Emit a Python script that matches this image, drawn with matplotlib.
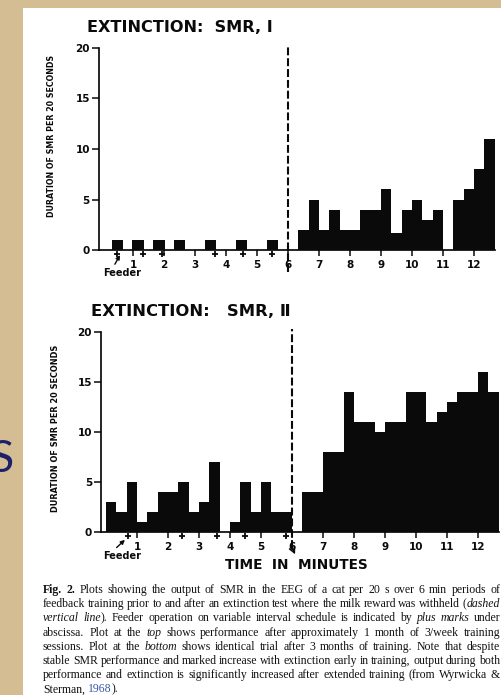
import matplotlib
matplotlib.use('Agg')
import matplotlib.pyplot as plt
from matplotlib.patches import Rectangle
from matplotlib import font_manager
from matplotlib.font_manager import FontProperties
import numpy as np

W, H = 502, 695
DPI = 100

# ---------------- data ----------------
bin_minutes = 1 / 3            # 20 s bins
extinction_minute = 6
post_start = 6 + 1 / 3
top_pre = [0, 1, 0, 1, 0, 1, 0, 1, 0, 0, 1, 0, 0, 1, 0, 0, 1, 0]
top_post = [2, 5, 2, 4, 2, 2, 4, 4, 6, 1.7, 4, 5, 3, 4, 0, 5, 6, 8, 11]
bot_pre = [3, 2, 5, 1, 2, 4, 4, 5, 2, 3, 7, 0, 1, 5, 2, 5, 2, 2]
bot_post = [4, 4, 8, 8, 14, 11, 11, 10, 11, 11, 14, 14, 11, 12, 13, 14, 14, 16, 14]
top_feeder = [0.47, 1.33, 1.94, 3.65, 4.55, 5.5]
bot_feeder = [0.72, 2.44, 3.59, 4.5, 5.8]
minute_ticks = list(range(1, 13))
y_ticks = [0, 5, 10, 15, 20]
titles = ['EXTINCTION:  SMR, \u2160', 'EXTINCTION:   SMR, \u2161']
ylabel = 'DURATION OF SMR PER 20 SECONDS'
xlabel = 'TIME  IN  MINUTES'
feeder_label = 'Feeder'
caption_lines = [
    "#Fig. 2.# Plots showing the output of SMR in the EEG of a cat per 20 s over 6 min periods of",
    "feedback training prior to and after an extinction test where the milk reward was withheld (_dashed_",
    "_vertical line_). Feeder operation on variable interval schedule is indicated by _plus marks_ under",
    "abscissa. Plot at the _top_ shows performance after approximately 1 month of 3/week training",
    "sessions. Plot at the _bottom_ shows identical trial after 3 months of training. Note that despite",
    "stable SMR performance and marked increase with extinction early in training, output during both",
    "performance and extinction is significantly increased after extended training (from Wyrwicka &",
    "Sterman, @1968@).",
]

# ---------------- styles ----------------
TAN = '#d5bd93'
NAVY = '#1d1f6a'
LINK = '#3556a8'
INK = '#0a0a0a'

fig = plt.figure(figsize=(W / DPI, H / DPI), dpi=DPI, facecolor=TAN)
renderer = fig.canvas.get_renderer()


def px(x, y):
    return (x / W, 1 - y / H)


def text_width(t):
    return t.get_window_extent(renderer).width


# white panel
fig.patches.append(Rectangle(px(23, H), 1 - 23 / W, (H - 8) / H,
                             transform=fig.transFigure, facecolor='white',
                             edgecolor='none', zorder=-5))
# slide letter peeking at the left
fig.text(*px(14, 460), 'S', ha='right', va='center', fontsize=32,
         color=NAVY, family=['Lato', 'DejaVu Sans'], zorder=-4)

# a condensed sans face for the vertical axis titles, if one is installed
cond, best = None, -1
for f in font_manager.fontManager.ttflist:
    is_cond = ('Condensed' in f.name or 'Narrow' in f.name or
               f.stretch in ('condensed', 'semi-condensed', 'extra-condensed'))
    if not is_cond or f.style != 'normal':
        continue
    if 'Serif' in f.name or 'Mono' in f.name:
        continue
    score = 1
    w = f.weight if isinstance(f.weight, int) else (700 if 'bold' in str(f.weight) else 400)
    if 500 <= w <= 700:
        score += 2
    if 'Sans' in f.name:
        score += 1
    if score > best:
        cond, best = f, score
ylab_font = (FontProperties(fname=cond.fname) if cond is not None
             else FontProperties(family='DejaVu Sans'))


def make_ax(x0, ppm, y0, ppu, xmin, xmax):
    left = (x0 + ppm * xmin) / W
    width = ppm * (xmax - xmin) / W
    bottom = (H - y0) / H
    height = 20 * ppu / H
    ax = fig.add_axes([left, bottom, width, height])
    ax.set_xlim(xmin, xmax)
    ax.set_ylim(0, 20)
    ax.patch.set_visible(False)
    return ax


def draw_panel(ax, pre, post, pre_width, feeder, feeder_text_xy, feeder_tip, arrow_end):
    pre_x = (np.arange(len(pre)) + 0.5) * bin_minutes
    post_x = post_start + (np.arange(len(post)) + 0.5) * bin_minutes
    ax.bar(pre_x, pre, width=pre_width, color=INK, linewidth=0, zorder=3)
    ax.bar(post_x, post, width=bin_minutes, color=INK, linewidth=0, zorder=3)
    ax.axvline(extinction_minute, ymin=arrow_end, ymax=1.015, color=INK, lw=1.5,
               dashes=(3.8, 1.4), clip_on=False, zorder=4)
    ax.scatter(feeder, [-0.02] * len(feeder), marker='+', s=18, linewidths=1.3,
               color=INK, transform=ax.get_xaxis_transform(), clip_on=False, zorder=4)
    for s in ['top', 'right']:
        ax.spines[s].set_visible(False)
    ax.spines['left'].set_linewidth(1.2)
    ax.spines['bottom'].set_linewidth(1.2)
    ax.spines['bottom'].set_bounds(ax.get_xlim()[0],
                                   post_start + len(post) * bin_minutes)
    ax.set_yticks(y_ticks)
    ax.set_xticks(minute_ticks)
    ax.set_xticklabels([str(m) for m in minute_ticks])
    ax.tick_params(axis='y', direction='out', length=5, width=1.1, pad=1.5,
                   labelsize=7.5, colors=INK)
    ax.tick_params(axis='x', direction='out', length=4, width=1.1, pad=3,
                   labelsize=7.5, colors=INK)
    for lab in ax.get_xticklabels() + ax.get_yticklabels():
        lab.set_fontweight('bold')
    ax.annotate(feeder_label, xy=feeder_tip, xytext=feeder_text_xy,
                ha='center', va='center', fontsize=7, fontweight='bold',
                color=INK, annotation_clip=False,
                arrowprops=dict(arrowstyle='-|>', lw=1.0, color=INK,
                                mutation_scale=6, relpos=(0.25, 1.0),
                                shrinkA=1, shrinkB=0))


ax1 = make_ax(102, 31, 250, 10.1, -0.1, 12.9)
draw_panel(ax1, top_pre, top_post, 0.38, top_feeder,
           (0.65, -2.3), (0.58, -0.5), -0.11)
ax2 = make_ax(106, 31, 532.3, 10.0, -0.16, 12.77)
draw_panel(ax2, bot_pre, bot_post, bin_minutes, bot_feeder,
           (0.52, -2.4), (0.61, -0.75), -0.08)
ax2.annotate('', xy=(6.1, -2.2), xytext=(6.0, -1.55),
             arrowprops=dict(arrowstyle='->', lw=1.1, color=INK, shrinkA=0, shrinkB=0),
             annotation_clip=False)


def fit_text(x_left, y_center, s, target_w, base_fs, rotation=0, **kw):
    t = fig.text(*px(x_left, y_center), s, fontsize=base_fs, ha='left',
                 va='center', **kw)
    w = text_width(t)
    t.set_fontsize(base_fs * target_w / w)
    if rotation:
        t.set_rotation(rotation)
        t.set_ha('center')
    return t


fit_text(87, 27, titles[0], 185, 9, fontweight='bold', color=INK)
fit_text(91, 311, titles[1], 199, 9, fontweight='bold', color=INK)
for (xc, yc, length) in [(52, 136, 162), (56, 428, 167)]:
    t = fit_text(xc, yc, ylabel, length, 7, rotation=90,
                 fontproperties=ylab_font.copy(), color=INK)
    t.set_position(px(xc, yc))
fit_text(225, 565, xlabel, 142, 8, fontweight='bold', color=INK)

# ---------------- caption (justified) ----------------
def parse(line, state):
    words = []
    for w in line.split(' '):
        runs, buf = [], ''
        for ch in w:
            if ch in '_#@':
                if buf:
                    runs.append((buf, dict(state)))
                    buf = ''
                key = {'_': 'i', '#': 'b', '@': 'c'}[ch]
                state[key] = not state[key]
            else:
                buf += ch
        if buf:
            runs.append((buf, dict(state)))
        words.append(runs)
    return words


def props(st, fs):
    return dict(family='Liberation Serif', fontsize=fs,
                fontstyle='italic' if st['i'] else 'normal',
                fontweight='bold' if st['b'] else 'normal',
                color=LINK if st['c'] else '#111111')


state = {'i': False, 'b': False, 'c': False}
parsed = [parse(l, state) for l in caption_lines]


def measure(fs):
    out = []
    for words in parsed:
        ws = []
        for runs in words:
            w = 0
            for s, st in runs:
                tt = fig.text(0, 0, s, **props(st, fs))
                w += text_width(tt)
                tt.remove()
            ws.append(w)
        out.append(ws)
    a = fig.text(0, 0, 'a a', **props({'i': 0, 'b': 0, 'c': 0}, fs))
    b = fig.text(0, 0, 'aa', **props({'i': 0, 'b': 0, 'c': 0}, fs))
    sp = text_width(a) - text_width(b)
    a.remove(); b.remove()
    return out, sp


CX0, CX1 = 43, 500
base = 8.6
widths, sp = measure(base)
nat = max(sum(ws) + 0.8 * sp * (len(ws) - 1) for ws in widths[:-1])
fs = base * (CX1 - CX0 - 1) / nat
widths, sp = measure(fs)

for li, (words, ws) in enumerate(zip(parsed, widths)):
    yb = 593 + li * 14.2
    if li < len(parsed) - 1:
        gap = (CX1 - CX0 - sum(ws)) / (len(ws) - 1)
    else:
        gap = sp
    x = CX0
    for runs, w in zip(words, ws):
        xr = x
        for s, st in runs:
            tt = fig.text(*px(xr, yb), s, ha='left', va='baseline', **props(st, fs))
            xr += text_width(tt)
        x += w + gap

fig.savefig('out.png', dpi=DPI, facecolor=TAN)
